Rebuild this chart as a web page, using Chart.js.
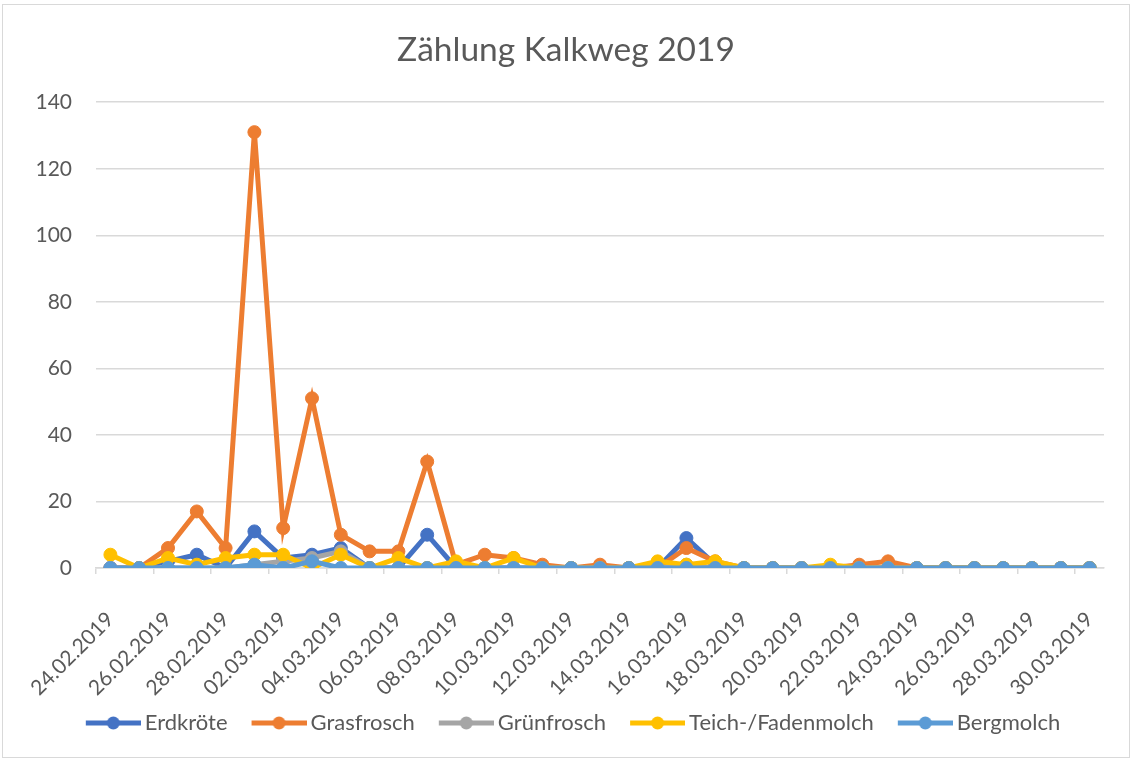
<!DOCTYPE html>
<html lang="de">
<head>
<meta charset="utf-8">
<title>Zählung Kalkweg 2019</title>
<script src="https://cdn.jsdelivr.net/npm/chart.js@4.4.1/dist/chart.umd.min.js"></script>
<style>
  html, body { margin: 0; padding: 0; background: #fff; }
  #wrap { position: absolute; left: 0; top: 0; width: 1132px; height: 760px; }
  #rahmen { position: absolute; left: 2px; top: 4px; width: 1126px; height: 752px;
            border: 1px solid #d9d9d9; pointer-events: none; }
</style>
</head>
<body>
<div id="wrap">
  <canvas id="chartKalkweg" width="1132" height="760"></canvas>
  <div id="rahmen"></div>
</div>
<script>
// Zähltage 24.02. – 30.03.2019
const tage = [
  '24.02.2019', '25.02.2019', '26.02.2019', '27.02.2019', '28.02.2019',
  '01.03.2019', '02.03.2019', '03.03.2019', '04.03.2019', '05.03.2019',
  '06.03.2019', '07.03.2019', '08.03.2019', '09.03.2019', '10.03.2019',
  '11.03.2019', '12.03.2019', '13.03.2019', '14.03.2019', '15.03.2019',
  '16.03.2019', '17.03.2019', '18.03.2019', '19.03.2019', '20.03.2019',
  '21.03.2019', '22.03.2019', '23.03.2019', '24.03.2019', '25.03.2019',
  '26.03.2019', '27.03.2019', '28.03.2019', '29.03.2019', '30.03.2019'
];

// Werte
const erdkroete    = [0, 0, 2, 4, 0, 11, 3, 4, 6, 0, 0, 10, 0, 0, 0, 0, 0, 0, 0, 0, 9, 1, 0, 0, 0, 0, 0, 0, 0, 0, 0, 0, 0, 0, 0];
const grasfrosch   = [0, 0, 6, 17, 6, 131, 12, 51, 10, 5, 5, 32, 1, 4, 3, 1, 0, 1, 0, 0, 6, 2, 0, 0, 0, 0, 1, 2, 0, 0, 0, 0, 0, 0, 0];
const gruenfrosch  = [0, 0, 0, 0, 0, 1, 2, 3, 5, 0, 0, 0, 0, 0, 0, 0, 0, 0, 0, 0, 1, 0, 0, 0, 0, 0, 0, 0, 0, 0, 0, 0, 0, 0, 0];
const teichmolch   = [4, 0, 3, 1, 3, 4, 4, 0, 4, 0, 3, 0, 2, 0, 3, 0, 0, 0, 0, 2, 1, 2, 0, 0, 0, 1, 0, 0, 0, 0, 0, 0, 0, 0, 0];
const bergmolch    = [0, 0, 0, 0, 0, 1, 0, 2, 0, 0, 0, 0, 0, 0, 0, 0, 0, 0, 0, 0, 0, 0, 0, 0, 0, 0, 0, 0, 0, 0, 0, 0, 0, 0, 0];

const arten  = ['Erdkröte', 'Grasfrosch', 'Grünfrosch', 'Teich-/Fadenmolch', 'Bergmolch'];
const reihen = [erdkroete, grasfrosch, gruenfrosch, teichmolch, bergmolch];
const farben = ['#4472C4', '#ED7D31', '#A5A5A5', '#FFC000', '#5B9BD5'];

const schrift = 'Lato, "Open Sans", sans-serif';
const grau = '#595959';
const gitter = '#d9d9d9';

// Legendensymbol wie in Excel: Linie mit Punkt in der Mitte
// (Bild ist breiter als die Linie, damit der Abstand zum Text passt)
function legendenSymbol(farbe) {
    const c = document.createElement('canvas');
    c.width = 76;
    c.height = 16;
    const g = c.getContext('2d');
    g.strokeStyle = farbe;
    g.lineWidth = 5;
    g.beginPath();
    g.moveTo(21, 8);
    g.lineTo(76, 8);
    g.stroke();
    g.fillStyle = farbe;
    g.beginPath();
    g.arc(48.5, 8, 6.5, 0, Math.PI * 2);
    g.fill();
    return c;
}

const datasets = arten.map((name, i) => ({
    label: name,
    data: reihen[i],
    borderColor: farben[i],
    backgroundColor: farben[i],
    pointBackgroundColor: farben[i],
    pointBorderColor: farben[i],
    borderWidth: 5,
    pointRadius: 6.5,
    pointHoverRadius: 6.5,
    pointBorderWidth: 1,
    tension: 0,
    fill: false,
    order: arten.length - 1 - i   // letzte Reihe liegt oben, wie in Excel
}));

new Chart(document.getElementById('chartKalkweg').getContext('2d'), {
    type: 'line',
    data: { labels: tage, datasets: datasets },
    options: {
        responsive: false,
        animation: false,
        layout: { padding: { left: 28, right: 28, top: 0, bottom: 16 } },
        plugins: {
            title: {
                display: true,
                text: 'Zählung Kalkweg 2019',
                color: grau,
                font: { family: schrift, size: 33.5, weight: 'normal' },
                padding: { top: 30, bottom: 32 }
            },
            legend: {
                position: 'bottom',
                reverse: true,
                labels: {
                    color: grau,
                    font: { family: schrift, size: 22 },
                    usePointStyle: true,
                    pointStyleWidth: 62,
                    padding: 10,
                    generateLabels: function (chart) {
                        const items = Chart.defaults.plugins.legend.labels.generateLabels(chart);
                        items.forEach(it => {
                            it.pointStyle = legendenSymbol(farben[it.datasetIndex]);
                        });
                        return items;
                    }
                }
            },
            tooltip: { enabled: false }
        },
        scales: {
            x: {
                offset: true,
                grid: {
                    offset: true,
                    drawOnChartArea: false,
                    drawTicks: true,
                    tickLength: 6,
                    lineWidth: 1.5,
                    color: ctx => (ctx.index % 2 === 0 ? gitter : 'rgba(0,0,0,0)')
                },
                border: { display: true, color: gitter, width: 1.5 },
                ticks: {
                    autoSkip: false,
                    maxRotation: 45,
                    minRotation: 45,
                    padding: 33,
                    color: grau,
                    font: { family: schrift, size: 21 },
                    callback: function (val, idx) {
                        return idx % 2 === 0 ? this.getLabelForValue(val) : '';
                    }
                },
                afterFit: function (scale) {
                    // feste Höhe, Randabstände nur über layout.padding
                    scale.height = 134;
                    scale.paddingLeft = 0;
                    scale.paddingRight = 0;
                }
            },
            y: {
                min: 0,
                max: 140,
                ticks: {
                    stepSize: 20,
                    padding: 24,
                    color: grau,
                    font: { family: schrift, size: 21 }
                },
                grid: { color: gitter, lineWidth: 1.5, drawTicks: false },
                border: { display: false },
                afterFit: function (scale) { scale.width = 68; }
            }
        }
    }
});
</script>
</body>
</html>
